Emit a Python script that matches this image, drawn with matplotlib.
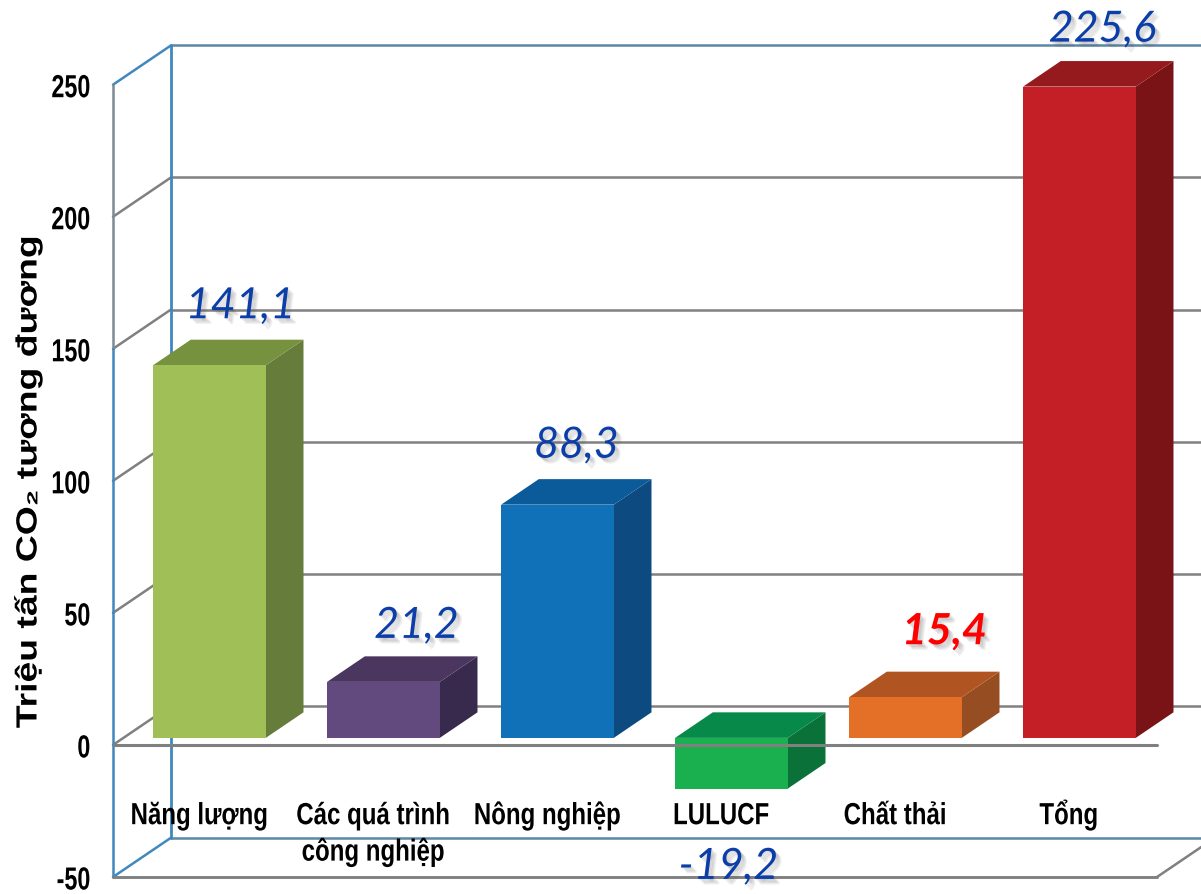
import matplotlib
matplotlib.use("Agg")
import matplotlib.pyplot as plt
import matplotlib.patheffects as pe
from matplotlib.patches import Polygon
from matplotlib.transforms import Affine2D

categories = ["Năng lượng", "Các quá trình\ncông nghiệp", "Nông nghiệp", "LULUCF", "Chất thải", "Tổng"]
bar_heights = [141.1, 21.2, 88.3, -19.2, 15.4, 246.6]
shown_values = ["141,1", "21,2", "88,3", "-19,2", "15,4", "225,6"]
yticks = [-50, 0, 50, 100, 150, 200, 250]

front_colors = ["#a0bf57", "#624a7e", "#1070b8", "#1bb04f", "#e46f27", "#c41f26"]
top_colors = ["#76923f", "#4b3660", "#0b5a9a", "#07894a", "#b05522", "#951a1e"]
side_colors = ["#657c3a", "#372a4c", "#0c4a80", "#0a7238", "#964d22", "#7a1315"]
label_colors = ["#0b3ea8", "#0b3ea8", "#0b3ea8", "#0b3ea8", "#ff0000", "#0b3ea8"]
label_offsets = [(31, 59), (33, 56), (19, 59), (-3, -129), (39, 66), (23, 57)]
# baselines of the first and second line of the category names, in axis units
name_lines = [-30, -43.8]

W, H = 1201, 895
fig = plt.figure(figsize=(W / 100, H / 100), dpi=100)
ax = fig.add_axes([113 / W, 1 - 878 / H, (1157 - 113) / W, (878 - 85.7) / H])
ax.set_xlim(-0.5, 5.5)
ax.set_ylim(-50, 250)
ax.patch.set_visible(False)
for s in ax.spines.values():
    s.set_visible(False)

# depth of the box: one unit of depth in data units
DX = 58 / 174
DY = 39.3 / 2.641
GREY = "#808080"
BLUE = "#4088bd"
STEEL = "#5c86a6"
LW = 1.8


class Stretch(pe.AbstractPathEffect):
    # squeezes or widens text, there is no narrow font installed
    def __init__(self, sx=1.0, sy=1.0, anchor="center", dx=0, dy=0):
        super().__init__()
        self.sx = sx
        self.sy = sy
        self.anchor = anchor
        self.dx = dx
        self.dy = dy

    def draw_path(self, renderer, gc, tpath, affine, rgbFace=None):
        box = tpath.transformed(affine).get_extents()
        cx = box.x1 if self.anchor == "right" else (box.x0 + box.x1) / 2
        cy = (box.y0 + box.y1) / 2
        scaled = affine + Affine2D().translate(-cx, -cy).scale(self.sx, self.sy).translate(cx + self.dx, cy + self.dy)
        renderer.draw_path(gc, tpath, scaled, rgbFace)


def proj(x, v, d):
    return x + d * DX, v + d * DY


def line(p, q, color, lw=LW, z=1):
    ax.plot([p[0], q[0]], [p[1], q[1]], color=color, lw=lw, clip_on=False, zorder=z, solid_capstyle="round")


# back wall and left wall
for t in yticks:
    edge = t in (-50, 250)
    line(proj(-0.5, t, 1), proj(5.5, t, 1), STEEL if edge else GREY)
    line(proj(-0.5, t, 0), proj(-0.5, t, 1), BLUE if edge else GREY, z=1.2)

line(proj(-0.5, -50, 1), proj(-0.5, 250, 1), BLUE, lw=LW + 0.2, z=1.5)
line((-0.5, 150), (-0.5, 250), "#7d8a94", z=1.5)
line((-0.5, -50), (-0.5, 150), BLUE, z=1.5)

# right edge of the floor and front edge
line((5.5, -50), proj(5.5, -50, 1), GREY)
line((-0.5, -50), (5.5, -50), GREY, lw=LW + 0.3, z=1.6)

# bars
d0, d1 = 0.18, 0.83
width = 112.7 / 174
shift = -1 / 174
for i, v in enumerate(bar_heights):
    left = i + shift - width / 2
    right = i + shift + width / 2
    lo, hi = min(v, 0), max(v, 0)
    front = [proj(left, lo, d0), proj(right, lo, d0), proj(right, hi, d0), proj(left, hi, d0)]
    top = [proj(left, hi, d0), proj(right, hi, d0), proj(right, hi, d1), proj(left, hi, d1)]
    side = [proj(right, lo, d0), proj(right, lo, d1), proj(right, hi, d1), proj(right, hi, d0)]
    ax.add_patch(Polygon(side, fc=side_colors[i], ec="none", clip_on=False, zorder=3))
    ax.add_patch(Polygon(top, fc=top_colors[i], ec="none", clip_on=False, zorder=3))
    ax.add_patch(Polygon(front, fc=front_colors[i], ec="none", clip_on=False, zorder=3))

    shadow = [pe.SimplePatchShadow(offset=(o, -o), shadow_rgbFace="#555555", alpha=0.1) for o in (1, 2, 3, 4)]
    px, py = proj(i + shift, hi, d0)
    ax.annotate(shown_values[i], (px, py), xytext=label_offsets[i], textcoords="offset pixels",
                ha="center", va="center", fontsize=31, style="italic",
                fontweight="bold" if label_colors[i] == "#ff0000" else "normal",
                family="Lato", color=label_colors[i], annotation_clip=False, zorder=6,
                path_effects=shadow + [pe.Normal()])

# zero line in front of everything
line((-0.5, 0), (5.5, 0), GREY, lw=LW + 0.4, z=5)

ax.set_yticks(yticks)
ax.set_yticklabels([str(t) for t in yticks], family="Liberation Sans", fontweight="bold", fontsize=23,
                   path_effects=[Stretch(sx=0.73, anchor="right", dy=-1)])
ax.tick_params(axis="y", length=0, pad=16)
ax.set_xticks([])

for i, name in enumerate(categories):
    for k, part in enumerate(name.split("\n")):
        ax.text(i, name_lines[k], part, ha="center", va="baseline", family="Liberation Sans",
                fontweight="bold", fontsize=22, zorder=6, path_effects=[Stretch(sx=0.787, dx=-1)])

ax.text(28 / W, 1 - 483 / H, "Triệu tấn CO₂ tương đương", transform=fig.transFigure, rotation=90,
        ha="center", va="center", fontsize=21, fontweight="bold", family=["Liberation Sans", "DejaVu Sans"],
        path_effects=[Stretch(sy=1.28)])

fig.savefig("out.png", dpi=100)
